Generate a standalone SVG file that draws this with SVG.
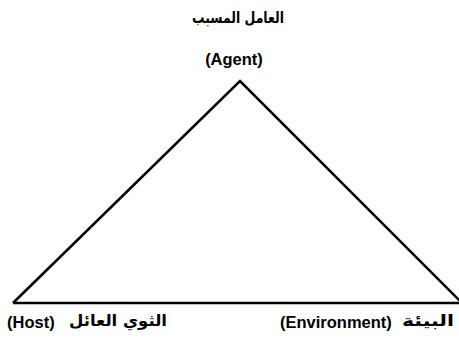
<svg xmlns="http://www.w3.org/2000/svg" width="459" height="339" viewBox="0 0 459 339">
<style>
.lbl{font-family:"Liberation Sans","DejaVu Sans",sans-serif;font-weight:bold;font-size:16.5px;fill:#000}
.ar{font-family:"DejaVu Sans","Liberation Sans",sans-serif;font-weight:bold;font-size:16px;fill:#000}
.edge{fill:none;stroke:#000;stroke-width:2.5;stroke-linejoin:miter}
</style>
<rect width="459" height="339" fill="#fff"/>
<g id="connectors">
<polyline class="edge" points="13,303 240,81 462,303"/>
<line class="edge" x1="13" y1="303" x2="459" y2="303"/>
</g>
<g id="agent">
<text class="ar" x="238" y="23" text-anchor="middle" direction="rtl" textLength="92" lengthAdjust="spacingAndGlyphs">العامل المسبب</text>
<text class="lbl" x="234" y="65" text-anchor="middle">(Agent)</text>
</g>
<g id="host">
<text class="lbl" x="7" y="328">(Host)</text>
<text class="ar" x="167" y="326" text-anchor="start" direction="rtl" textLength="98" lengthAdjust="spacingAndGlyphs">الثوي العائل</text>
</g>
<g id="environment">
<text class="lbl" x="280" y="328">(Environment)</text>
<text class="ar" x="454" y="326" text-anchor="start" direction="rtl" textLength="52" lengthAdjust="spacingAndGlyphs">البيئة</text>
</g>
</svg>
